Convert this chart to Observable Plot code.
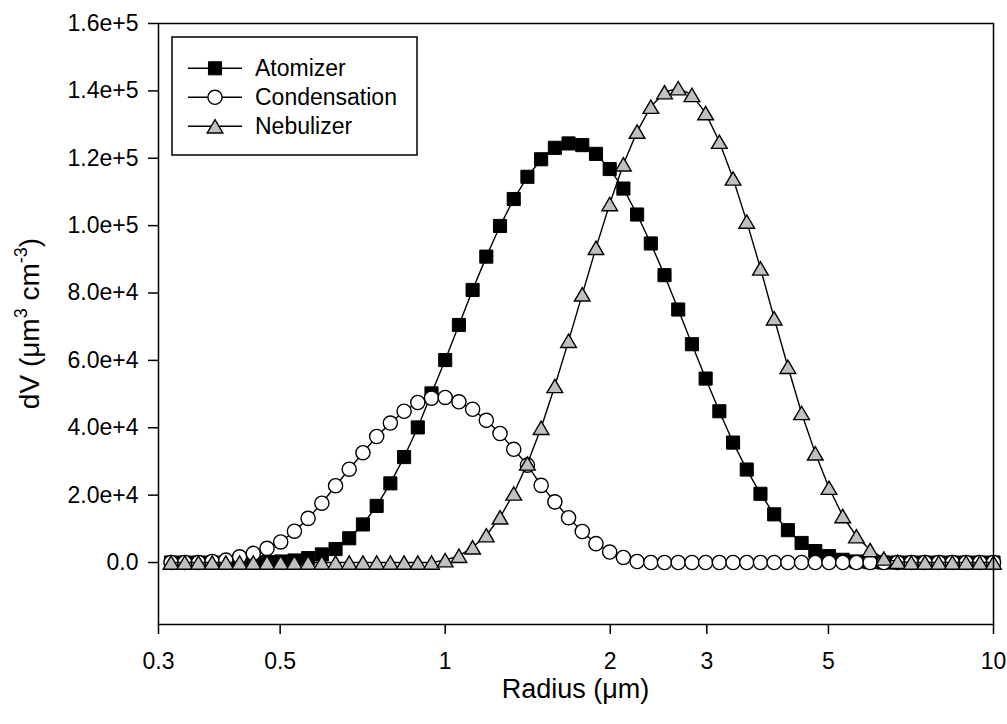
<!DOCTYPE html>
<html><head><meta charset="utf-8">
<script src="https://cdn.jsdelivr.net/npm/d3@7"></script>
<script src="https://cdn.jsdelivr.net/npm/@observablehq/plot@0.6"></script>
<style>body{margin:0;background:#fff;}</style>
</head><body><div id="chart"></div>
<script>
const radius = [0.3162,0.3350,0.3548,0.3758,0.3981,0.4217,0.4467,0.4732,0.5012,0.5309,
  0.5623,0.5957,0.6310,0.6683,0.7079,0.7499,0.7943,0.8414,0.8913,0.9441,
  1.0000,1.0593,1.1220,1.1885,1.2589,1.3335,1.4125,1.4962,1.5849,1.6788,
  1.7783,1.8836,1.9953,2.1135,2.2387,2.3714,2.5119,2.6607,2.8184,2.9854,
  3.1623,3.3497,3.5481,3.7584,3.9811,4.2170,4.4668,4.7315,5.0119,5.3088,
  5.6234,5.9566,6.3096,6.6834,7.0795,7.4989,7.9433,8.4140,8.9125,9.4406,10.0000];
const atomizer = [0,0,0,0,0,0,0,100,300,600,
  1300,2400,4000,7200,11300,16800,23500,31300,40100,50200,
  60100,70500,80900,90800,99900,107900,114500,119700,123100,124400,
  123900,121300,116800,111000,103300,94700,85300,75100,64800,54600,
  44900,35600,27600,20400,14300,9600,5800,3400,1900,800,
  300,100,0,0,0,0,0,0,0,0,0];
const condensation = [0,0,0,300,700,1700,2700,4200,6100,9300,
  13100,17600,22800,27700,32600,37400,41400,44900,47500,48800,
  49000,47700,45500,42200,38300,33600,28900,22900,18000,13300,
  9200,5600,3100,1500,300,0,0,0,0,0,
  0,0,0,0,0,0,0,0,0,0,
  0,0,0,0,0,0,0,0,0,0,0];
const nebulizer = [0,0,0,0,0,0,0,0,0,0,
  0,0,0,0,0,0,0,0,0,0,
  700,2000,4500,8100,13400,20500,29400,40000,52400,65800,
  79600,93400,106400,118200,127900,135300,139600,140800,138800,133400,
  124900,114000,101200,87300,72500,58100,44400,32400,22200,13800,
  7800,3700,1200,200,0,0,0,0,0,0,0];
const seriesNames = ["Atomizer", "Condensation", "Nebulizer"];
const xTicks = [0.3, 0.5, 1, 2, 3, 5, 10];
const xTickLabels = ["0.3", "0.5", "1", "2", "3", "5", "10"];
const yTicks = [0, 20000, 40000, 60000, 80000, 100000, 120000, 140000, 160000];
const yTickLabels = ["0.0", "2.0e+4", "4.0e+4", "6.0e+4", "8.0e+4", "1.0e+5", "1.2e+5", "1.4e+5", "1.6e+5"];

const seriesValues = [atomizer, condensation, nebulizer];
const rows = [];
seriesNames.forEach((s, k) => radius.forEach((r, i) => rows.push({series: s, radius: r, dv: seriesValues[k][i]})));

// triangle centred on its bounding box
const triangle = {
  draw(ctx, size) {
    const r = Math.sqrt(size / Math.PI);
    const hw = 1.35 * r, hh = 1.15 * r;
    ctx.moveTo(0, -hh); ctx.lineTo(hw, hh); ctx.lineTo(-hw, hh); ctx.closePath();
  }
};
const styles = {
  Atomizer: {symbol: "square", r: 7.4, fill: "black", strokeWidth: 1},
  Condensation: {symbol: "circle", r: 7.1, fill: "white", strokeWidth: 1.4},
  Nebulizer: {symbol: triangle, r: 5.8, fill: "#c0c0c0", strokeWidth: 1.4}
};

const marks = [];
for (const s of seriesNames) {
  const data = rows.filter(d => d.series === s);
  marks.push(Plot.line(data, {x: "radius", y: "dv", stroke: "black", strokeWidth: 1.4}));
  marks.push(Plot.dot(data, {x: "radius", y: "dv", stroke: "black", ...styles[s]}));
}

const W = 1007, H = 724, ML = 158, MR = 14, MT = 23, MB = 100;
const plot = Plot.plot({
  width: W, height: H,
  marginLeft: ML, marginRight: MR, marginTop: MT, marginBottom: MB,
  style: {fontFamily: "'Liberation Sans', Arial, sans-serif", fontSize: "23px", color: "black", background: "white"},
  x: {type: "log", domain: [0.3, 10]},
  y: {domain: [-18400, 160000]},
  marks: [
    Plot.axisX({ticks: xTicks, tickFormat: d => xTickLabels[xTicks.indexOf(d)], tickSize: 10, tickPadding: 18, strokeWidth: 1.5, label: null, fontSize: 23}),
    Plot.axisY({ticks: yTicks, tickFormat: d => yTickLabels[yTicks.indexOf(d)], tickSize: 10, tickPadding: 10, strokeWidth: 1.5, label: null, fontSize: 23}),
    ...marks,
    Plot.frame({stroke: "black", strokeWidth: 1.5})
  ]
});
document.getElementById("chart").appendChild(plot);

const svg = d3.select(plot);
const ff = "'Liberation Sans', Arial, sans-serif";
// x axis title
svg.append("text").attr("x", (ML + W - MR) / 2).attr("y", 698).attr("text-anchor", "middle")
  .attr("font-family", ff).attr("font-size", 27).attr("fill", "black").text("Radius (μm)");
// y axis title with superscripts
const yt = svg.append("text").attr("transform", `translate(39,${(MT + H - MB) / 2}) rotate(-90)`)
  .attr("text-anchor", "middle").attr("font-family", ff).attr("font-size", 28).attr("fill", "black");
yt.append("tspan").text("dV (μm");
yt.append("tspan").attr("font-size", 18).attr("dy", -12).text("3");
yt.append("tspan").attr("dy", 12).text(" cm");
yt.append("tspan").attr("font-size", 18).attr("dy", -12).text("-3");
yt.append("tspan").attr("dy", 12).text(")");

// legend
const lg = svg.append("g");
lg.append("rect").attr("x", 172).attr("y", 37).attr("width", 245).attr("height", 118)
  .attr("fill", "white").attr("stroke", "black").attr("stroke-width", 1.5);
seriesNames.forEach((s, k) => {
  const cy = 68.3 + 29 * k, cx = 215;
  lg.append("line").attr("x1", 188).attr("x2", 242).attr("y1", cy).attr("y2", cy)
    .attr("stroke", "black").attr("stroke-width", 1.4);
  const st = styles[s];
  const sym = st.symbol === "square" ? d3.symbolSquare : st.symbol === "circle" ? d3.symbolCircle : st.symbol;
  lg.append("path").attr("d", d3.symbol(sym, Math.PI * st.r * st.r)())
    .attr("transform", `translate(${cx},${cy})`).attr("fill", st.fill)
    .attr("stroke", "black").attr("stroke-width", st.strokeWidth);
  lg.append("text").attr("x", 255).attr("y", cy).attr("dy", "0.35em").attr("text-anchor", "start")
    .attr("font-family", ff).attr("font-size", 23).attr("fill", "black").text(s);
});
</script></body></html>
